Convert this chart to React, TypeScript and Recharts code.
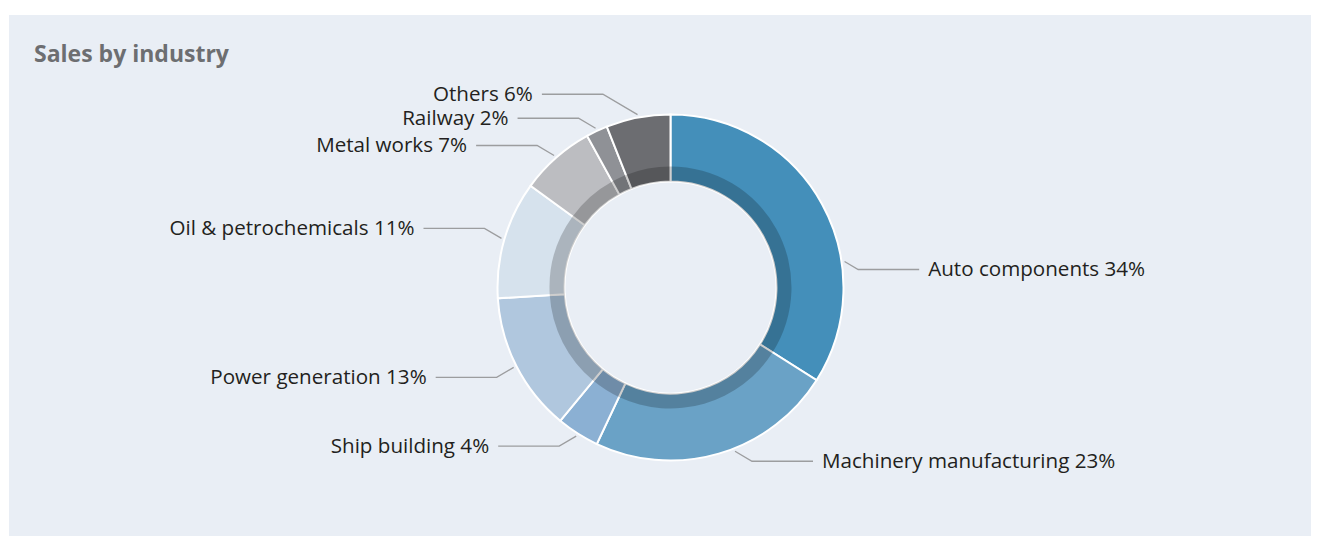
import React from "react";
import { PieChart, Pie, Cell } from "recharts";

const industries = [
  "Auto components",
  "Machinery manufacturing",
  "Ship building",
  "Power generation",
  "Oil & petrochemicals",
  "Metal works",
  "Railway",
  "Others",
];
const shares = [34, 23, 4, 13, 11, 7, 2, 6];
const sliceColors = ["#448fba", "#6aa2c6", "#8bb0d3", "#b0c7de", "#d6e2ed", "#bcbdc1", "#8f9196", "#6c6d71"];

const data = industries.map((name, i) => ({ name, value: shares[i] }));

// hand tweaks for the leader lines: turn = degrees clockwise, drop = forced elbow dy
const leaderTweaks: Record<string, { turn: number; drop?: number }> = {
  "Auto components": { turn: 20.3, drop: 8 },
  "Machinery manufacturing": { turn: -5.3 },
};

const W = 1302;
const H = 521;
const CX = 661.5;
const CY = 272.5;
const R_IN = 106;
const R_SHADE = 121;
const R_OUT = 173;

const RAD = Math.PI / 180;
const SLOPE = 1.7;
const RISE = 10;
const ARM = 61;
const GAP = 9;
const LINE_GAP = 24;

type Leader = { ax: number; ay: number; ex: number; ey: number; right: boolean };

function layoutLeaders(cx: number, cy: number, r: number): Leader[] {
  const total = shares.reduce((a, b) => a + b, 0);
  let cum = 0;
  const out: Leader[] = data.map((d) => {
    const t = leaderTweaks[d.name];
    const cw = ((cum + d.value / 2) / total) * 360 + (t?.turn ?? 0);
    cum += d.value;
    const ax = cx + r * Math.sin(cw * RAD);
    const ay = cy - r * Math.cos(cw * RAD);
    const dy = t?.drop ?? (ay >= cy ? RISE : -RISE);
    return { ax, ay, ex: 0, ey: ay + dy, right: ax >= cx };
  });

  for (const side of [true, false]) {
    const list = out.filter((l) => l.right === side).sort((a, b) => b.ey - a.ey);
    for (let i = 1; i < list.length; i++) {
      if (list[i - 1].ey - list[i].ey < LINE_GAP) list[i].ey = list[i - 1].ey - LINE_GAP;
    }
  }

  out.forEach((l) => {
    const run = Math.abs(l.ey - l.ay) * SLOPE;
    l.ex = l.right ? l.ax + run : l.ax - run;
  });
  return out;
}

function renderLabel(props: any) {
  const { cx, cy, outerRadius, index, name, value } = props;
  const l = layoutLeaders(cx, cy, outerRadius + 3)[index];
  const endX = l.right ? l.ex + ARM : l.ex - ARM;
  const textX = l.right ? endX + GAP : endX - GAP;
  return (
    <g key={`lbl-${index}`}>
      <polyline
        points={`${l.ax},${l.ay} ${l.ex},${l.ey} ${endX},${l.ey}`}
        fill="none"
        stroke="#9c9d9f"
        strokeWidth={1.3}
      />
      <text
        x={textX}
        y={l.ey + 7}
        textAnchor={l.right ? "start" : "end"}
        fill="#231f20"
        fontSize={20.6}
        fontFamily="'Open Sans', sans-serif"
      >
        {`${name} ${value}%`}
      </text>
    </g>
  );
}

export default function App() {
  return (
    <div
      style={{
        position: "relative",
        width: W,
        height: H,
        marginLeft: 1,
        marginTop: 7,
        background: "#e9eef5",
      }}
    >
      <div
        style={{
          position: "absolute",
          left: 25,
          top: 26.5,
          fontFamily: "'Open Sans', sans-serif",
          fontWeight: 700,
          fontSize: 23,
          lineHeight: "23px",
          color: "#6d6e71",
          whiteSpace: "nowrap",
        }}
      >
        Sales by industry
      </div>
      <PieChart width={W} height={H} margin={{ top: 0, right: 0, bottom: 0, left: 0 }}>
        <Pie
          data={data}
          dataKey="value"
          nameKey="name"
          cx={CX}
          cy={CY}
          innerRadius={R_IN}
          outerRadius={R_OUT}
          startAngle={90}
          endAngle={-270}
          stroke="#ffffff"
          strokeWidth={2}
          label={renderLabel}
          labelLine={false}
          isAnimationActive={false}
        >
          {data.map((d, i) => (
            <Cell key={d.name} fill={sliceColors[i]} />
          ))}
        </Pie>
        <Pie
          data={data}
          dataKey="value"
          nameKey="name"
          cx={CX}
          cy={CY}
          innerRadius={R_IN}
          outerRadius={R_SHADE}
          startAngle={90}
          endAngle={-270}
          fill="#000000"
          fillOpacity={0.2}
          stroke="none"
          isAnimationActive={false}
        />
      </PieChart>
    </div>
  );
}
